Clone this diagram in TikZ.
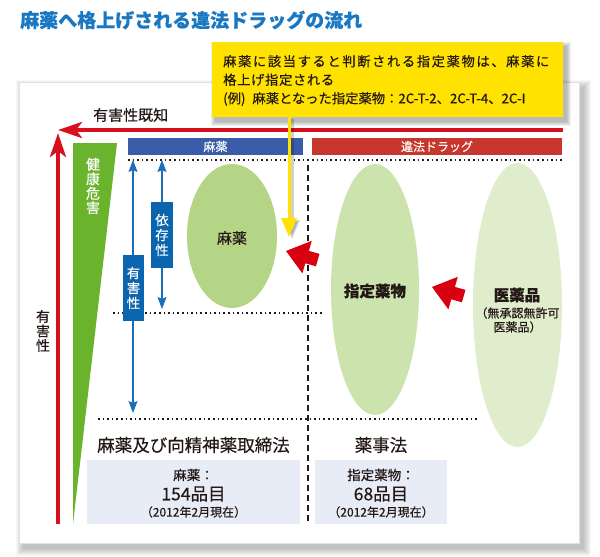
\documentclass[tikz,border=0pt]{standalone}
\usepackage{fontspec}
\setmainfont{Noto Sans CJK JP}[FakeBold=0.35]
\newfontfamily\jpwide[LetterSpace=12,FakeBold=0.35]{Noto Sans CJK JP}
\newfontfamily\jpmid[LetterSpace=5,FakeBold=0.35]{Noto Sans CJK JP}
\usetikzlibrary{arrows.meta,shapes.geometric}
\definecolor{ttlblue}{HTML}{1A78C2}
\definecolor{txtc}{HTML}{231815}
\definecolor{yel}{HTML}{FFE200}
\definecolor{redax}{HTML}{D7101E}
\definecolor{redarr}{HTML}{D9000F}
\definecolor{barblue}{HTML}{3A5CA8}
\definecolor{barred}{HTML}{C8372D}
\definecolor{grn}{HTML}{6AB42D}
\definecolor{lblue}{HTML}{1B6FB8}
\definecolor{lbox}{HTML}{0B64AE}
\definecolor{ellA}{HTML}{B3D585}
\definecolor{ellB}{HTML}{CDE3AE}
\definecolor{ellC}{HTML}{DFEDCD}
\definecolor{boxbg}{HTML}{E8ECF7}
\tikzset{
  tx/.style={text=txtc, inner sep=0pt},
  vtx/.style={align=center, inner sep=0pt},
  dotline/.style={txtc, line width=1.5pt, dash pattern=on 1.5pt off 3.1pt},
  dashline/.style={txtc, line width=1.8pt, dash pattern=on 6pt off 4pt},
  axisarrow/.style={redax, line width=4pt, -{Stealth[length=24pt,width=16pt,inset=6pt]}},
  duo/.style={lblue, line width=1.2pt, {Stealth[length=12pt,width=9pt,inset=2pt]}-{Stealth[length=12pt,width=9pt,inset=2pt]}},
  labbox/.style={fill=lbox, text=white, align=center, inner sep=0pt, minimum width=22pt, minimum height=66pt, font=\fontsize{13.5}{15}\selectfont},
  barbox/.style={text=white, inner sep=0pt, minimum height=17pt, font=\fontsize{12}{12}\selectfont},
  blob/.style={ellipse, inner sep=0pt, draw=none},
  lawbox/.style={fill=boxbg, inner sep=0pt, minimum height=64pt},
  fatarrow/.pic={\fill[redarr] (0,0) -- (25.8,-10.2) -- (22.9,-0.1) -- (33.5,2.9) -- (29.9,15.3) -- (19.3,12.3) -- (16.4,22.4) -- cycle;}
}
\begin{document}
\begin{tikzpicture}[x=1pt,y=-1pt]
\useasboundingbox (0,0) rectangle (600,557);
\fill[white] (0,0) rectangle (600,557);
% title
\node[anchor=west, text=ttlblue, inner sep=0pt, font=\fontsize{19}{19}\selectfont\bfseries] (title) at (20,20) {麻薬へ格上げされる違法ドラッグの流れ};
% panel with soft shadow
\foreach \e in {0,...,7} {\fill[black,opacity=0.03] (23-\e,87-\e) rectangle (584+\e,549+\e);}
\fill[white, draw=black!12, line width=0.5pt] (19,82) rectangle (579,543);
% axes
\coordinate (hR) at (563,130);
\coordinate (hL) at (58,130);
\coordinate (vB) at (58,524);
\coordinate (vT) at (58,133);
\draw[axisarrow] (hR) -- (hL);
\draw[axisarrow] (vB) -- (vT);
\node[tx, anchor=west, font=\fontsize{15}{15}\selectfont] (known) at (93,115) {有害性既知};
\node[tx, vtx, font=\fontsize{14}{14.5}\selectfont] (harm) at (43,331) {有\\害\\性};
% green wedge
\fill[grn] (73,143) -- (117,143) -- (73,524) -- cycle;
\node[vtx, text=white, font=\fontsize{14}{14.5}\selectfont] (health) at (93,186) {健\\康\\危\\害};
% bars
\node[barbox, fill=barblue, minimum width=175pt] (barA) at (215.5,146.5) {麻薬};
\node[barbox, fill=barred, minimum width=250pt] (barB) at (437,146.5) {違法ドラッグ};
% dotted / dashed guides
\draw[dotline] (128,160) -- (562,160);
\draw[dotline] (113,313) -- (322,313);
\draw[dotline] (98,419) -- (478,419);
\draw[dashline] (308,165) -- (308,524);
% ellipses
\node[blob, fill=ellA, minimum width=90pt, minimum height=144pt] (eA) at (232,236) {};
\node[blob, fill=ellB, minimum width=88pt, minimum height=251pt] (eB) at (375,289.5) {};
\node[blob, fill=ellC, minimum width=89pt, minimum height=284pt] (eC) at (517.5,305) {};
\node[tx, font=\fontsize{15}{15}\selectfont] (tA) at (232,238) {麻薬};
\node[tx, font=\fontsize{15.5}{15.5}\selectfont\bfseries] (tB) at (375,291) {指定薬物};
\node[tx, font=\fontsize{15.5}{15.5}\selectfont\bfseries] (tC) at (517,295) {医薬品};
\node[tx, align=center, font=\fontsize{12}{14}\selectfont] (tC2) at (517.5,320) {（無承認無許可\\医薬品）};
% blue double arrows
\coordinate (d1T) at (133,160);
\coordinate (d1B) at (133,413);
\coordinate (d2T) at (162,160);
\coordinate (d2B) at (162,309);
\draw[duo] (d1T) -- (d1B);
\draw[duo] (d2T) -- (d2B);
\node[labbox, minimum width=21pt] (lab1) at (133.5,288) {有\\害\\性};
\node[labbox] (lab2) at (162,235) {依\\存\\性};
% fat red arrows
\pic at (286,251) {fatarrow};
\pic at (432,287) {fatarrow};
% laws
\node[tx, font=\fontsize{17.5}{17.5}\selectfont] (lawA) at (193.5,445) {麻薬及び向精神薬取締法};
\node[tx, font=\fontsize{17.5}{17.5}\selectfont] (lawB) at (381,445) {薬事法};
\node[lawbox, minimum width=213pt] (bxA) at (193.5,492) {};
\node[lawbox, minimum width=132pt] (bxB) at (381,492) {};
\node[tx, font=\fontsize{13.5}{13.5}\selectfont] (a1) at (193.5,475) {麻薬：};
\node[tx, font=\fontsize{17.5}{17.5}\selectfont] (a2) at (193.5,494) {154品目};
\node[tx, font=\fontsize{12}{12}\selectfont] (a3) at (193.5,512) {（2012年2月現在）};
\node[tx, font=\fontsize{13.5}{13.5}\selectfont] (b1) at (381,475) {指定薬物：};
\node[tx, font=\fontsize{17.5}{17.5}\selectfont] (b2) at (381,494) {68品目};
\node[tx, font=\fontsize{12}{12}\selectfont] (b3) at (381,512) {（2012年2月現在）};
% yellow callout
\foreach \e in {0,...,4} {\fill[black,opacity=0.06] (215-\e,46-\e) rectangle (567+\e,122+\e);}
\node[fill=yel, minimum width=351pt, minimum height=75pt, anchor=north west, inner sep=0pt] (ybox) at (212,42) {};
\node[tx, anchor=west, align=left, font=\fontsize{13.3}{18.5}\selectfont] (ytext) at (223,80.5) {{\jpwide 麻薬に該当すると判断される指定薬物は、麻薬に}\\{\jpmid 格上げ指定される}\\(例)\hspace{7pt}麻薬となった指定薬物：2C-T-2、2C-T-4、2C-I};
\coordinate (ytip) at (289,237);
\draw[black, opacity=0.18, line width=3pt, -{Triangle[length=19pt,width=15pt]}] ([shift={(3,2)}]ybox.south -| ytip) -- ([shift={(3,2)}]ytip);
\draw[yel, line width=3pt, -{Triangle[length=19pt,width=15pt]}] (ybox.south -| ytip) -- (ytip);
\end{tikzpicture}
\end{document}
